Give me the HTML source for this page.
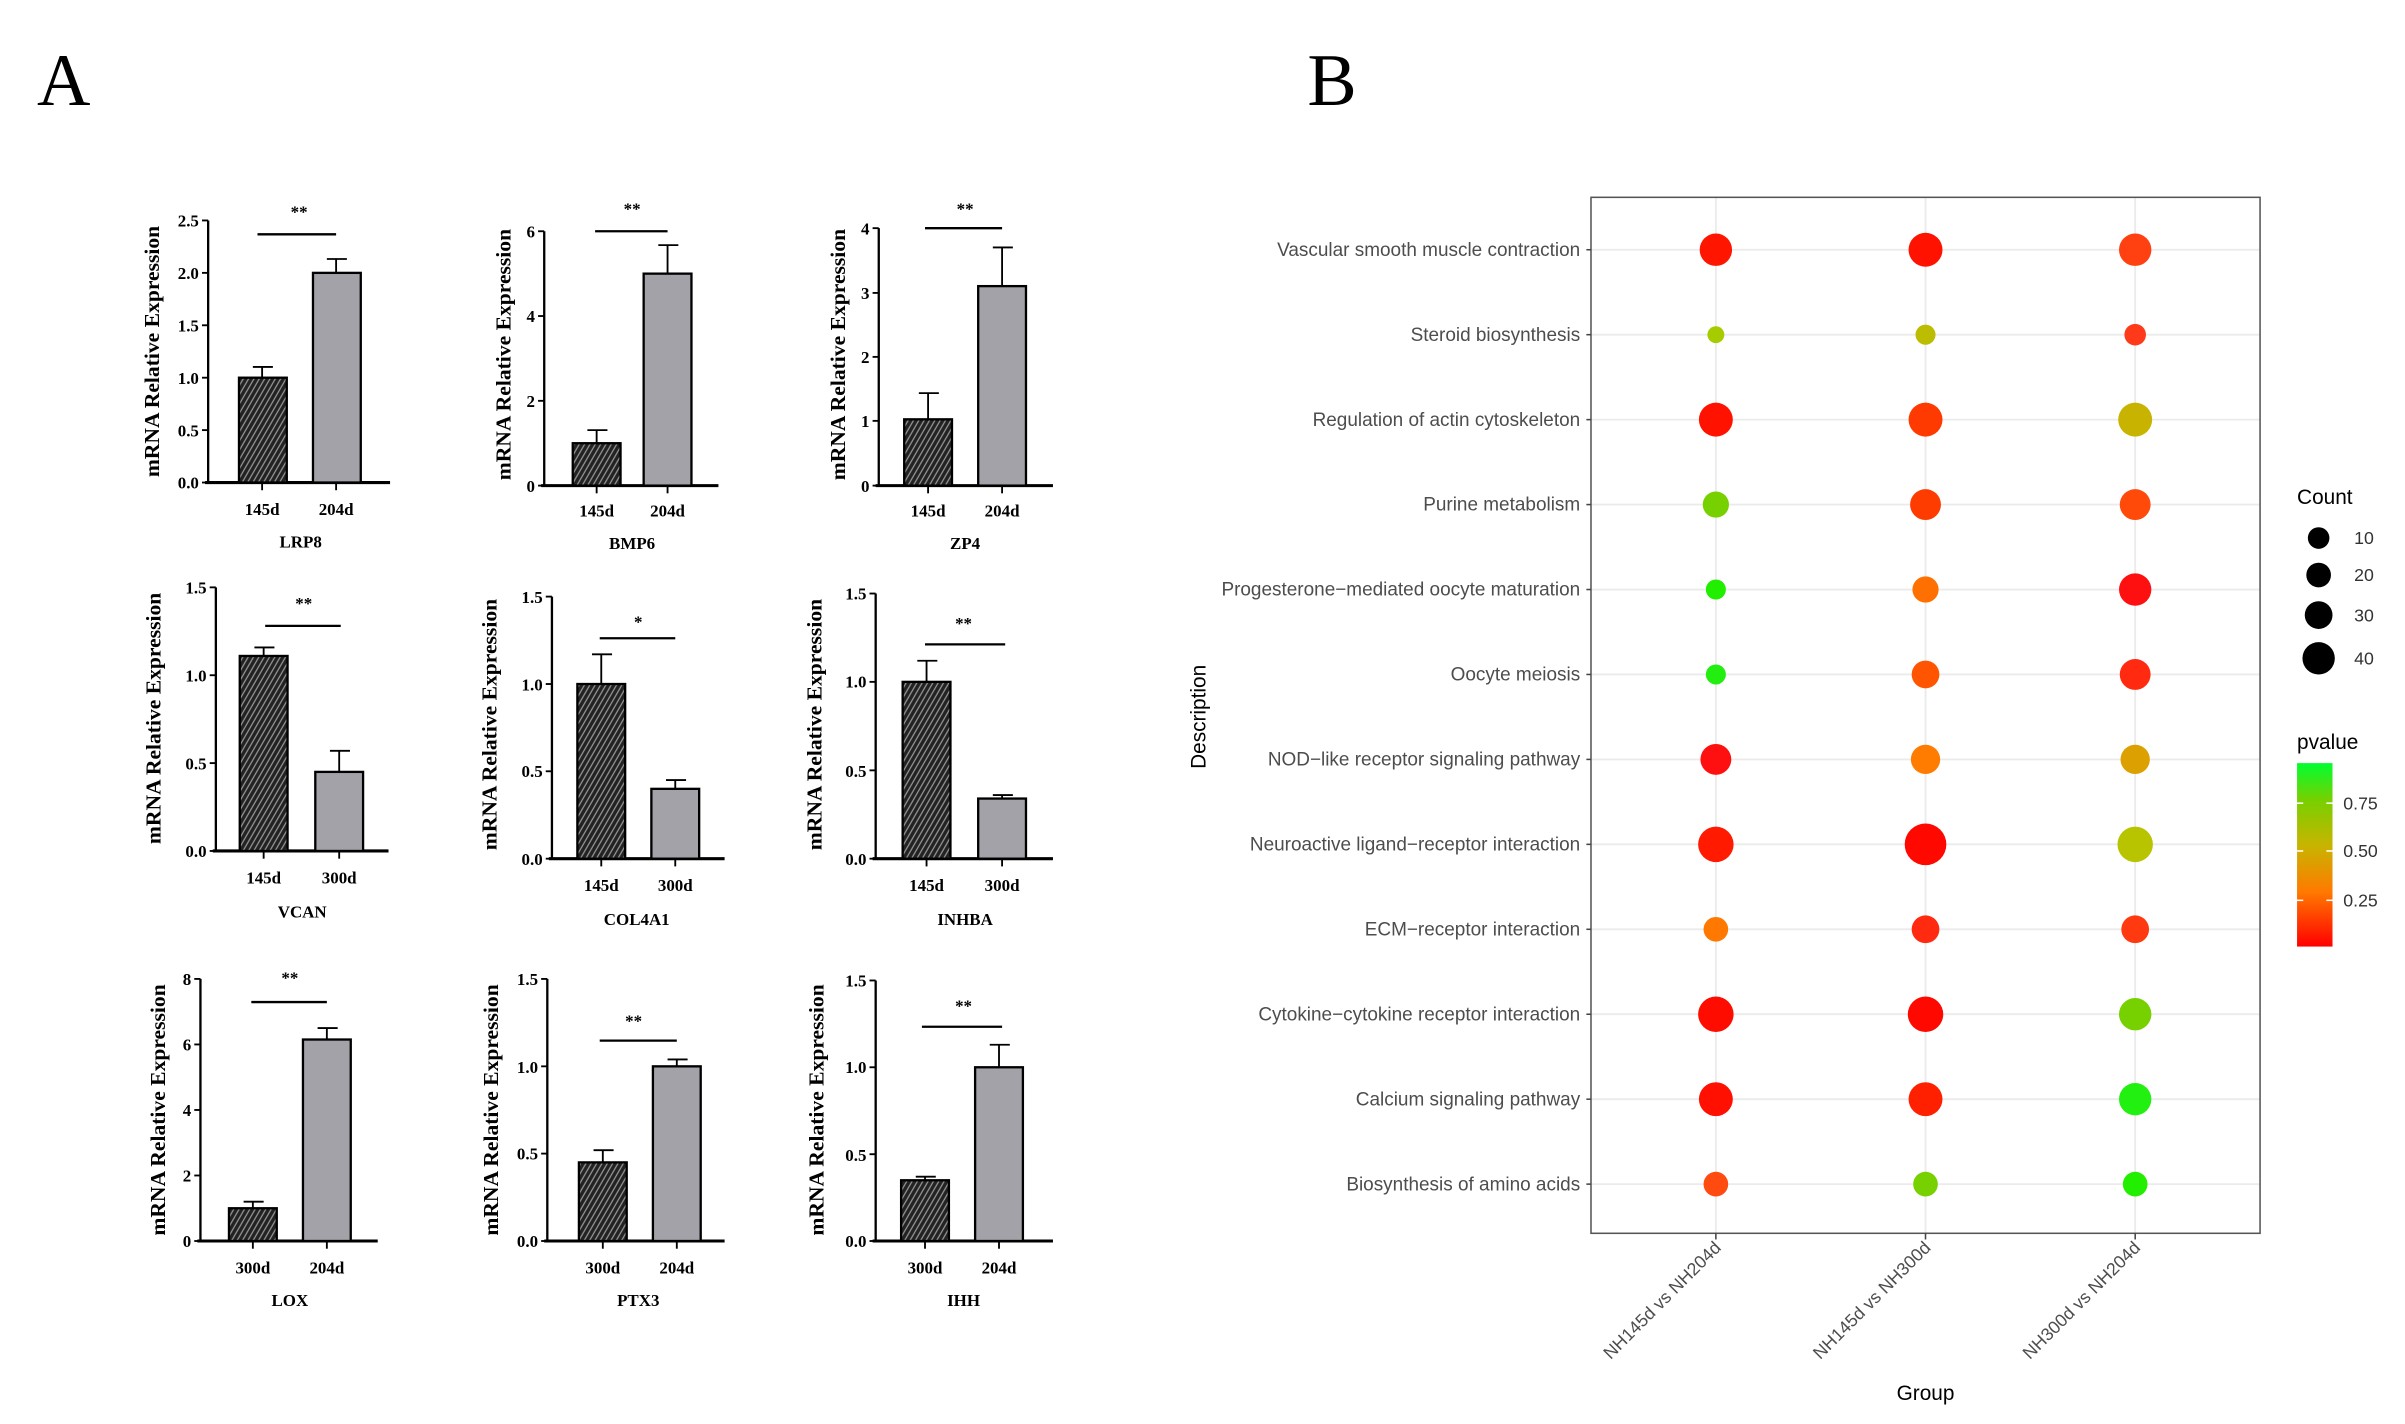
<!DOCTYPE html>
<html><head><meta charset="utf-8"><style>html,body{margin:0;padding:0;background:#fff}svg{display:block}</style></head>
<body>
<svg width="2405" height="1424" viewBox="0 0 1560 923.7" xmlns="http://www.w3.org/2000/svg">
<defs>
<pattern id="h" patternUnits="userSpaceOnUse" width="3" height="3" patternTransform="rotate(-60)">
<rect width="3" height="3" fill="#222"/><line x1="0" y1="1.5" x2="3" y2="1.5" stroke="#999" stroke-width="0.8"/>
</pattern>
<linearGradient id="pg" x1="0" y1="1" x2="0" y2="0">
<stop offset="0" stop-color="#ff0000"/><stop offset="0.3" stop-color="#ff7a00"/><stop offset="0.55" stop-color="#c8b400"/><stop offset="0.8" stop-color="#77d000"/><stop offset="1" stop-color="#00ff30"/>
</linearGradient>
</defs>
<rect width="1560" height="923.7" fill="#fff"/>
<text x="24" y="68" font-family="Liberation Serif, serif" font-size="48">A</text>
<text x="848" y="68" font-family="Liberation Serif, serif" font-size="48">B</text>

<g font-family="Liberation Serif, serif" font-weight="bold" font-size="11" fill="#000" stroke="#000">
<!-- Chart 1 LRP8 -->
<g>
<line x1="135" y1="143" x2="135" y2="313" stroke-width="1.5"/><line x1="133" y1="313" x2="253" y2="313" stroke-width="2"/>
<g stroke-width="1.2"><line x1="131" y1="313" x2="135" y2="313"/><line x1="131" y1="279" x2="135" y2="279"/><line x1="131" y1="245" x2="135" y2="245"/><line x1="131" y1="211" x2="135" y2="211"/><line x1="131" y1="177" x2="135" y2="177"/><line x1="131" y1="143" x2="135" y2="143"/></g>
<g stroke="none" text-anchor="end"><text x="129" y="317">0.0</text><text x="129" y="283">0.5</text><text x="129" y="249">1.0</text><text x="129" y="215">1.5</text><text x="129" y="181">2.0</text><text x="129" y="147">2.5</text></g>
<rect x="155" y="245" width="31" height="68" fill="url(#h)" stroke-width="1.5"/><rect x="203" y="177" width="31" height="136" fill="#a2a2a8" stroke-width="1.5"/>
<g stroke-width="1.2"><line x1="170" y1="245" x2="170" y2="238"/><line x1="164" y1="238" x2="177" y2="238"/><line x1="218" y1="177" x2="218" y2="168"/><line x1="212" y1="168" x2="225" y2="168"/><line x1="170" y1="313" x2="170" y2="318"/><line x1="218" y1="313" x2="218" y2="318"/></g>
<line x1="167" y1="152" x2="218" y2="152" stroke-width="1.5"/>
<g stroke="none" text-anchor="middle"><text x="194" y="141">**</text><text x="170" y="334">145d</text><text x="218" y="334">204d</text><text x="195" y="355">LRP8</text><text transform="translate(103,228) rotate(-90)" font-size="14">mRNA Relative Expression</text></g>
</g>
<!-- Chart 2 BMP6 -->
<g>
<line x1="353" y1="150" x2="353" y2="315" stroke-width="1.5"/><line x1="351" y1="315" x2="466" y2="315" stroke-width="2"/>
<g stroke-width="1.2"><line x1="349" y1="315" x2="353" y2="315"/><line x1="349" y1="260" x2="353" y2="260"/><line x1="349" y1="205" x2="353" y2="205"/><line x1="349" y1="150" x2="353" y2="150"/></g>
<g stroke="none" text-anchor="end"><text x="347" y="319">0</text><text x="347" y="264">2</text><text x="347" y="209">4</text><text x="347" y="154">6</text></g>
<rect x="371.5" y="287.5" width="31" height="27.5" fill="url(#h)" stroke-width="1.5"/><rect x="417.5" y="177.5" width="31" height="137.5" fill="#a2a2a8" stroke-width="1.5"/>
<g stroke-width="1.2"><line x1="387" y1="287.5" x2="387" y2="279"/><line x1="381" y1="279" x2="394" y2="279"/><line x1="433" y1="177.5" x2="433" y2="159"/><line x1="427" y1="159" x2="440" y2="159"/><line x1="387" y1="315" x2="387" y2="320"/><line x1="433" y1="315" x2="433" y2="320"/></g>
<line x1="386" y1="150" x2="433" y2="150" stroke-width="1.5"/>
<g stroke="none" text-anchor="middle"><text x="410" y="139">**</text><text x="387" y="335">145d</text><text x="433" y="335">204d</text><text x="410" y="356">BMP6</text><text transform="translate(331,230) rotate(-90)" font-size="14">mRNA Relative Expression</text></g>
</g>
<!-- Chart 3 ZP4 -->
<g>
<line x1="570" y1="148" x2="570" y2="315" stroke-width="1.5"/><line x1="568" y1="315" x2="683" y2="315" stroke-width="2"/>
<g stroke-width="1.2"><line x1="566" y1="315" x2="570" y2="315"/><line x1="566" y1="273" x2="570" y2="273"/><line x1="566" y1="231.5" x2="570" y2="231.5"/><line x1="566" y1="190" x2="570" y2="190"/><line x1="566" y1="148" x2="570" y2="148"/></g>
<g stroke="none" text-anchor="end"><text x="564" y="319">0</text><text x="564" y="277">1</text><text x="564" y="235.5">2</text><text x="564" y="194">3</text><text x="564" y="152">4</text></g>
<rect x="586.5" y="272" width="31" height="43" fill="url(#h)" stroke-width="1.5"/><rect x="634.5" y="185.6" width="31" height="129.4" fill="#a2a2a8" stroke-width="1.5"/>
<g stroke-width="1.2"><line x1="602" y1="272" x2="602" y2="255"/><line x1="596" y1="255" x2="609" y2="255"/><line x1="650" y1="185.6" x2="650" y2="160.5"/><line x1="644" y1="160.5" x2="657" y2="160.5"/><line x1="602" y1="315" x2="602" y2="320"/><line x1="650" y1="315" x2="650" y2="320"/></g>
<line x1="600" y1="148" x2="650" y2="148" stroke-width="1.5"/>
<g stroke="none" text-anchor="middle"><text x="626" y="139">**</text><text x="602" y="335">145d</text><text x="650" y="335">204d</text><text x="626" y="356">ZP4</text><text transform="translate(548,230) rotate(-90)" font-size="14">mRNA Relative Expression</text></g>
</g>
<!-- Chart 4 VCAN -->
<g>
<line x1="140" y1="381" x2="140" y2="552" stroke-width="1.5"/><line x1="138" y1="552" x2="252" y2="552" stroke-width="2"/>
<g stroke-width="1.2"><line x1="136" y1="552" x2="140" y2="552"/><line x1="136" y1="495" x2="140" y2="495"/><line x1="136" y1="438" x2="140" y2="438"/><line x1="136" y1="381" x2="140" y2="381"/></g>
<g stroke="none" text-anchor="end"><text x="134" y="556">0.0</text><text x="134" y="499">0.5</text><text x="134" y="442">1.0</text><text x="134" y="385">1.5</text></g>
<rect x="155.5" y="425.5" width="31" height="126.5" fill="url(#h)" stroke-width="1.5"/><rect x="204.5" y="500.7" width="31" height="51.3" fill="#a2a2a8" stroke-width="1.5"/>
<g stroke-width="1.2"><line x1="171" y1="425.5" x2="171" y2="420"/><line x1="165" y1="420" x2="178" y2="420"/><line x1="220" y1="500.7" x2="220" y2="487"/><line x1="214" y1="487" x2="227" y2="487"/><line x1="171" y1="552" x2="171" y2="557"/><line x1="220" y1="552" x2="220" y2="557"/></g>
<line x1="172" y1="406" x2="221" y2="406" stroke-width="1.5"/>
<g stroke="none" text-anchor="middle"><text x="197" y="395">**</text><text x="171" y="573">145d</text><text x="220" y="573">300d</text><text x="196" y="595">VCAN</text><text transform="translate(104,466) rotate(-90)" font-size="14">mRNA Relative Expression</text></g>
</g>
<!-- Chart 5 COL4A1 -->
<g>
<line x1="358" y1="387" x2="358" y2="557" stroke-width="1.5"/><line x1="356" y1="557" x2="470" y2="557" stroke-width="2"/>
<g stroke-width="1.2"><line x1="354" y1="557" x2="358" y2="557"/><line x1="354" y1="500.3" x2="358" y2="500.3"/><line x1="354" y1="443.7" x2="358" y2="443.7"/><line x1="354" y1="387" x2="358" y2="387"/></g>
<g stroke="none" text-anchor="end"><text x="352" y="561">0.0</text><text x="352" y="504">0.5</text><text x="352" y="448">1.0</text><text x="352" y="391">1.5</text></g>
<rect x="374.5" y="443.7" width="31" height="113.3" fill="url(#h)" stroke-width="1.5"/><rect x="422.5" y="511.7" width="31" height="45.3" fill="#a2a2a8" stroke-width="1.5"/>
<g stroke-width="1.2"><line x1="390" y1="443.7" x2="390" y2="424.4"/><line x1="384" y1="424.4" x2="397" y2="424.4"/><line x1="438" y1="511.7" x2="438" y2="506"/><line x1="432" y1="506" x2="445" y2="506"/><line x1="390" y1="557" x2="390" y2="562"/><line x1="438" y1="557" x2="438" y2="562"/></g>
<line x1="389" y1="414" x2="438" y2="414" stroke-width="1.5"/>
<g stroke="none" text-anchor="middle"><text x="414" y="407">*</text><text x="390" y="578">145d</text><text x="438" y="578">300d</text><text x="413" y="600">COL4A1</text><text transform="translate(322,470) rotate(-90)" font-size="14">mRNA Relative Expression</text></g>
</g>
<!-- Chart 6 INHBA -->
<g>
<line x1="568" y1="385" x2="568" y2="557" stroke-width="1.5"/><line x1="566" y1="557" x2="683" y2="557" stroke-width="2"/>
<g stroke-width="1.2"><line x1="564" y1="557" x2="568" y2="557"/><line x1="564" y1="499.7" x2="568" y2="499.7"/><line x1="564" y1="442.3" x2="568" y2="442.3"/><line x1="564" y1="385" x2="568" y2="385"/></g>
<g stroke="none" text-anchor="end"><text x="562" y="561">0.0</text><text x="562" y="504">0.5</text><text x="562" y="446">1.0</text><text x="562" y="389">1.5</text></g>
<rect x="585.5" y="442.3" width="31" height="114.7" fill="url(#h)" stroke-width="1.5"/><rect x="634.5" y="518" width="31" height="39" fill="#a2a2a8" stroke-width="1.5"/>
<g stroke-width="1.2"><line x1="601" y1="442.3" x2="601" y2="428.6"/><line x1="595" y1="428.6" x2="608" y2="428.6"/><line x1="650" y1="518" x2="650" y2="515.7"/><line x1="644" y1="515.7" x2="657" y2="515.7"/><line x1="601" y1="557" x2="601" y2="562"/><line x1="650" y1="557" x2="650" y2="562"/></g>
<line x1="600" y1="418" x2="652" y2="418" stroke-width="1.5"/>
<g stroke="none" text-anchor="middle"><text x="625" y="408">**</text><text x="601" y="578">145d</text><text x="650" y="578">300d</text><text x="626" y="600">INHBA</text><text transform="translate(533,470) rotate(-90)" font-size="14">mRNA Relative Expression</text></g>
</g>
<!-- Chart 7 LOX -->
<g>
<line x1="130" y1="635" x2="130" y2="805" stroke-width="1.5"/><line x1="128" y1="805" x2="245" y2="805" stroke-width="2"/>
<g stroke-width="1.2"><line x1="126" y1="805" x2="130" y2="805"/><line x1="126" y1="762.5" x2="130" y2="762.5"/><line x1="126" y1="720" x2="130" y2="720"/><line x1="126" y1="677.5" x2="130" y2="677.5"/><line x1="126" y1="635" x2="130" y2="635"/></g>
<g stroke="none" text-anchor="end"><text x="124" y="809">0</text><text x="124" y="766.5">2</text><text x="124" y="724">4</text><text x="124" y="681.5">6</text><text x="124" y="639">8</text></g>
<rect x="148.5" y="783.75" width="31" height="21.25" fill="url(#h)" stroke-width="1.5"/><rect x="196.5" y="674.3" width="31" height="130.7" fill="#a2a2a8" stroke-width="1.5"/>
<g stroke-width="1.2"><line x1="164" y1="783.75" x2="164" y2="779.5"/><line x1="158" y1="779.5" x2="171" y2="779.5"/><line x1="212" y1="674.3" x2="212" y2="666.9"/><line x1="206" y1="666.9" x2="219" y2="666.9"/><line x1="164" y1="805" x2="164" y2="810"/><line x1="212" y1="805" x2="212" y2="810"/></g>
<line x1="163" y1="650" x2="212" y2="650" stroke-width="1.5"/>
<g stroke="none" text-anchor="middle"><text x="188" y="638">**</text><text x="164" y="826">300d</text><text x="212" y="826">204d</text><text x="188" y="847">LOX</text><text transform="translate(107,720) rotate(-90)" font-size="14">mRNA Relative Expression</text></g>
</g>
<!-- Chart 8 PTX3 -->
<g>
<line x1="355" y1="635" x2="355" y2="805" stroke-width="1.5"/><line x1="353" y1="805" x2="470" y2="805" stroke-width="2"/>
<g stroke-width="1.2"><line x1="351" y1="805" x2="355" y2="805"/><line x1="351" y1="748.3" x2="355" y2="748.3"/><line x1="351" y1="691.7" x2="355" y2="691.7"/><line x1="351" y1="635" x2="355" y2="635"/></g>
<g stroke="none" text-anchor="end"><text x="349" y="809">0.0</text><text x="349" y="752">0.5</text><text x="349" y="696">1.0</text><text x="349" y="639">1.5</text></g>
<rect x="375.5" y="754" width="31" height="51" fill="url(#h)" stroke-width="1.5"/><rect x="423.5" y="691.7" width="31" height="113.3" fill="#a2a2a8" stroke-width="1.5"/>
<g stroke-width="1.2"><line x1="391" y1="754" x2="391" y2="746.1"/><line x1="385" y1="746.1" x2="398" y2="746.1"/><line x1="439" y1="691.7" x2="439" y2="687.2"/><line x1="433" y1="687.2" x2="446" y2="687.2"/><line x1="391" y1="805" x2="391" y2="810"/><line x1="439" y1="805" x2="439" y2="810"/></g>
<line x1="389" y1="675" x2="439" y2="675" stroke-width="1.5"/>
<g stroke="none" text-anchor="middle"><text x="411" y="666">**</text><text x="391" y="826">300d</text><text x="439" y="826">204d</text><text x="414" y="847">PTX3</text><text transform="translate(323,720) rotate(-90)" font-size="14">mRNA Relative Expression</text></g>
</g>
<!-- Chart 9 IHH -->
<g>
<line x1="568" y1="636" x2="568" y2="805" stroke-width="1.5"/><line x1="566" y1="805" x2="683" y2="805" stroke-width="2"/>
<g stroke-width="1.2"><line x1="564" y1="805" x2="568" y2="805"/><line x1="564" y1="748.7" x2="568" y2="748.7"/><line x1="564" y1="692.3" x2="568" y2="692.3"/><line x1="564" y1="636" x2="568" y2="636"/></g>
<g stroke="none" text-anchor="end"><text x="562" y="809">0.0</text><text x="562" y="753">0.5</text><text x="562" y="696">1.0</text><text x="562" y="640">1.5</text></g>
<rect x="584.5" y="765.6" width="31" height="39.4" fill="url(#h)" stroke-width="1.5"/><rect x="632.5" y="692.3" width="31" height="112.7" fill="#a2a2a8" stroke-width="1.5"/>
<g stroke-width="1.2"><line x1="600" y1="765.6" x2="600" y2="763.3"/><line x1="594" y1="763.3" x2="607" y2="763.3"/><line x1="648" y1="692.3" x2="648" y2="677.7"/><line x1="642" y1="677.7" x2="655" y2="677.7"/><line x1="600" y1="805" x2="600" y2="810"/><line x1="648" y1="805" x2="648" y2="810"/></g>
<line x1="598" y1="666" x2="650" y2="666" stroke-width="1.5"/>
<g stroke="none" text-anchor="middle"><text x="625" y="656">**</text><text x="600" y="826">300d</text><text x="648" y="826">204d</text><text x="625" y="847">IHH</text><text transform="translate(534,720) rotate(-90)" font-size="14">mRNA Relative Expression</text></g>
</g>
</g>

<!-- Panel B -->
<g font-family="Liberation Sans, sans-serif">
<g stroke="#ebebeb" stroke-width="1.2">
<line x1="1032" y1="162" x2="1466" y2="162"/><line x1="1032" y1="217.1" x2="1466" y2="217.1"/><line x1="1032" y1="272.2" x2="1466" y2="272.2"/><line x1="1032" y1="327.3" x2="1466" y2="327.3"/><line x1="1032" y1="382.4" x2="1466" y2="382.4"/><line x1="1032" y1="437.5" x2="1466" y2="437.5"/><line x1="1032" y1="492.6" x2="1466" y2="492.6"/><line x1="1032" y1="547.7" x2="1466" y2="547.7"/><line x1="1032" y1="602.8" x2="1466" y2="602.8"/><line x1="1032" y1="657.9" x2="1466" y2="657.9"/><line x1="1032" y1="713" x2="1466" y2="713"/><line x1="1032" y1="768.1" x2="1466" y2="768.1"/>
<line x1="1113" y1="128" x2="1113" y2="800"/><line x1="1249" y1="128" x2="1249" y2="800"/><line x1="1385" y1="128" x2="1385" y2="800"/>
</g>
<rect x="1032" y="128" width="434" height="672" fill="none" stroke="#555" stroke-width="1"/>
<g stroke="#444" stroke-width="1">
<line x1="1029" y1="162" x2="1032" y2="162"/><line x1="1029" y1="217.1" x2="1032" y2="217.1"/><line x1="1029" y1="272.2" x2="1032" y2="272.2"/><line x1="1029" y1="327.3" x2="1032" y2="327.3"/><line x1="1029" y1="382.4" x2="1032" y2="382.4"/><line x1="1029" y1="437.5" x2="1032" y2="437.5"/><line x1="1029" y1="492.6" x2="1032" y2="492.6"/><line x1="1029" y1="547.7" x2="1032" y2="547.7"/><line x1="1029" y1="602.8" x2="1032" y2="602.8"/><line x1="1029" y1="657.9" x2="1032" y2="657.9"/><line x1="1029" y1="713" x2="1032" y2="713"/><line x1="1029" y1="768.1" x2="1032" y2="768.1"/>
<line x1="1113" y1="800" x2="1113" y2="804"/><line x1="1249" y1="800" x2="1249" y2="804"/><line x1="1385" y1="800" x2="1385" y2="804"/>
</g>
<g font-size="12.3" fill="#4d4d4d" text-anchor="end">
<text x="1025" y="166">Vascular smooth muscle contraction</text>
<text x="1025" y="221.1">Steroid biosynthesis</text>
<text x="1025" y="276.2">Regulation of actin cytoskeleton</text>
<text x="1025" y="331.3">Purine metabolism</text>
<text x="1025" y="386.4">Progesterone−mediated oocyte maturation</text>
<text x="1025" y="441.5">Oocyte meiosis</text>
<text x="1025" y="496.6">NOD−like receptor signaling pathway</text>
<text x="1025" y="551.7">Neuroactive ligand−receptor interaction</text>
<text x="1025" y="606.8">ECM−receptor interaction</text>
<text x="1025" y="661.9">Cytokine−cytokine receptor interaction</text>
<text x="1025" y="717">Calcium signaling pathway</text>
<text x="1025" y="772.1">Biosynthesis of amino acids</text>
</g>
<g font-size="11.5" fill="#4d4d4d" text-anchor="end">
<text transform="translate(1117,810) rotate(-45)">NH145d vs NH204d</text>
<text transform="translate(1253,810) rotate(-45)">NH145d vs NH300d</text>
<text transform="translate(1389,810) rotate(-45)">NH300d vs NH204d</text>
</g>
<text transform="translate(782,465) rotate(-90)" font-size="13.5" fill="#000" text-anchor="middle">Description</text>
<text x="1249" y="908" font-size="13.5" fill="#000" text-anchor="middle">Group</text>
<!-- bubbles -->
<circle cx="1113" cy="162" r="10.5" fill="#ff1500"/><circle cx="1249" cy="162" r="11" fill="#ff1200"/><circle cx="1385" cy="162" r="10.5" fill="#ff4010"/>
<circle cx="1113" cy="217.1" r="5.5" fill="#a6cc00"/><circle cx="1249" cy="217.1" r="6.5" fill="#bcbc00"/><circle cx="1385" cy="217.1" r="7" fill="#ff3a1a"/>
<circle cx="1113" cy="272.2" r="11" fill="#ff1200"/><circle cx="1249" cy="272.2" r="11" fill="#ff3a00"/><circle cx="1385" cy="272.2" r="11" fill="#c8b400"/>
<circle cx="1113" cy="327.3" r="8.5" fill="#77d000"/><circle cx="1249" cy="327.3" r="10" fill="#ff3c00"/><circle cx="1385" cy="327.3" r="10" fill="#ff4a0a"/>
<circle cx="1113" cy="382.4" r="6.5" fill="#22ee00"/><circle cx="1249" cy="382.4" r="8.5" fill="#ff7000"/><circle cx="1385" cy="382.4" r="10.5" fill="#ff1010"/>
<circle cx="1113" cy="437.5" r="6.5" fill="#22ee10"/><circle cx="1249" cy="437.5" r="9" fill="#ff5500"/><circle cx="1385" cy="437.5" r="10" fill="#ff2a10"/>
<circle cx="1113" cy="492.6" r="10" fill="#ff1010"/><circle cx="1249" cy="492.6" r="9.5" fill="#ff7c00"/><circle cx="1385" cy="492.6" r="9.5" fill="#dca000"/>
<circle cx="1113" cy="547.7" r="11.5" fill="#ff1a00"/><circle cx="1249" cy="547.7" r="13.5" fill="#ff0800"/><circle cx="1385" cy="547.7" r="11.5" fill="#b8c400"/>
<circle cx="1113" cy="602.8" r="8" fill="#ff7800"/><circle cx="1249" cy="602.8" r="9" fill="#ff2a10"/><circle cx="1385" cy="602.8" r="9" fill="#ff3a10"/>
<circle cx="1113" cy="657.9" r="11.5" fill="#ff0c00"/><circle cx="1249" cy="657.9" r="11.5" fill="#ff0800"/><circle cx="1385" cy="657.9" r="10.5" fill="#77d000"/>
<circle cx="1113" cy="713" r="11" fill="#ff1000"/><circle cx="1249" cy="713" r="11" fill="#ff2000"/><circle cx="1385" cy="713" r="10.5" fill="#22f010"/>
<circle cx="1113" cy="768.1" r="8" fill="#ff4a10"/><circle cx="1249" cy="768.1" r="8" fill="#77d000"/><circle cx="1385" cy="768.1" r="8" fill="#22ee00"/>
<!-- legend -->
<text x="1490" y="327" font-size="13.5" fill="#000">Count</text>
<circle cx="1504" cy="349" r="7" fill="#000"/><circle cx="1504" cy="373" r="8" fill="#000"/><circle cx="1504" cy="399" r="9" fill="#000"/><circle cx="1504" cy="427" r="10.5" fill="#000"/>
<g font-size="11.5" fill="#333"><text x="1527" y="353">10</text><text x="1527" y="377">20</text><text x="1527" y="403">30</text><text x="1527" y="431">40</text></g>
<text x="1490" y="486" font-size="13.5" fill="#000">pvalue</text>
<rect x="1490" y="495" width="23" height="119" fill="url(#pg)"/>
<g stroke="#fff" stroke-width="1"><line x1="1490" y1="521" x2="1494" y2="521"/><line x1="1509" y1="521" x2="1513" y2="521"/><line x1="1490" y1="552" x2="1494" y2="552"/><line x1="1509" y1="552" x2="1513" y2="552"/><line x1="1490" y1="584" x2="1494" y2="584"/><line x1="1509" y1="584" x2="1513" y2="584"/></g>
<g font-size="11.5" fill="#333"><text x="1520" y="525">0.75</text><text x="1520" y="556">0.50</text><text x="1520" y="588">0.25</text></g>
</g>
</svg>
</body></html>
